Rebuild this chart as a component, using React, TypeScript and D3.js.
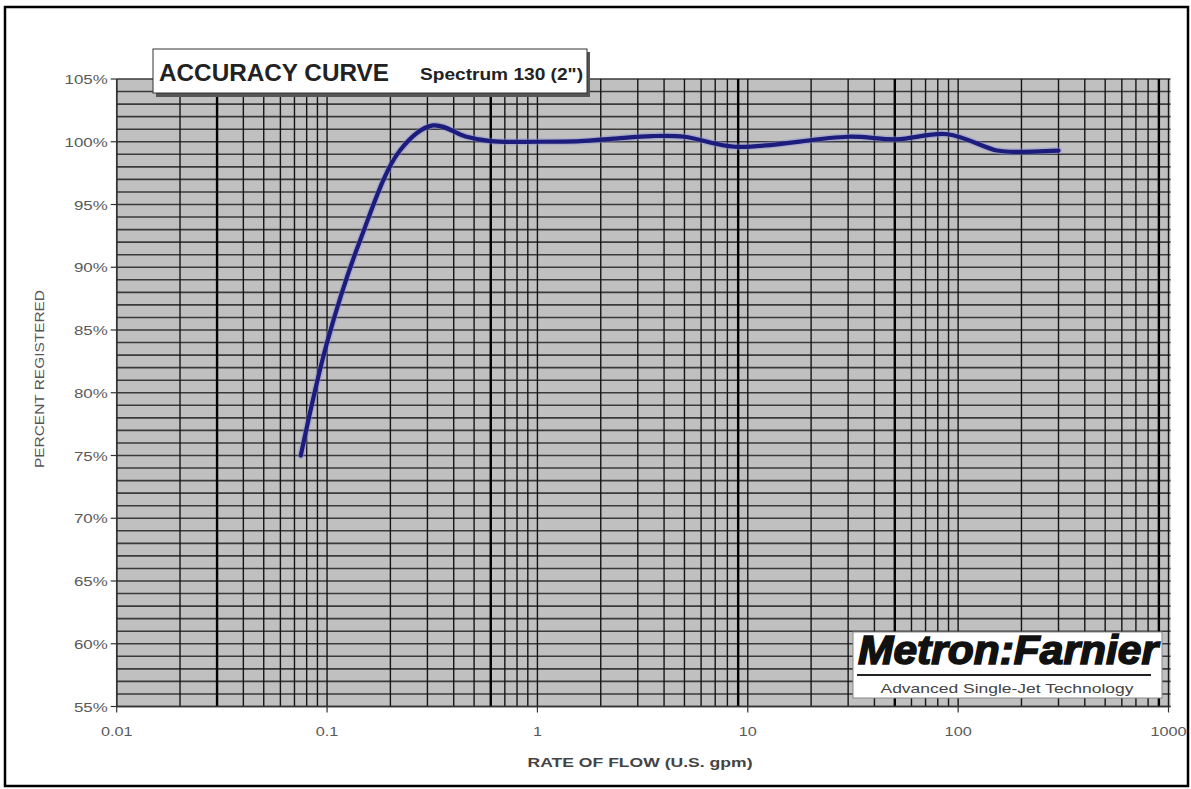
import React from "react";
import * as d3 from "d3";

const flowRates = [0.075, 0.1, 0.144, 0.222, 0.318, 0.46, 0.6, 1, 1.6, 2.3, 3.5, 5, 8.7, 30, 51, 89, 153, 183, 300];
const percentRegistered = [75, 84, 92.2, 99.3, 101.3, 100.4, 100.05, 100, 100.05, 100.25, 100.45, 100.4, 99.6, 100.4, 100.2, 100.6, 99.3, 99.2, 99.3];
const yTickValues = [55, 60, 65, 70, 75, 80, 85, 90, 95, 100, 105];
const xTickValues = [0.01, 0.1, 1, 10, 100, 1000];
const xTickLabels = ["0.01", "0.1", "1", "10", "100", "1000"];
const heavyVerticals = [0.03, 0.6, 9, 50, 900];

const W = 1191;
const H = 789;
const left = 116.7;
const right = 1168.5;
const top = 79;
const bottom = 706.5;
const font = "Arial, 'Liberation Sans', sans-serif";

export default function App() {
  const x = d3.scaleLog().domain([0.01, 1000]).range([left, right]);
  const y = d3.scaleLinear().domain([55, 105]).range([bottom, top]);

  const vLines: number[] = [];
  for (let e = -2; e <= 2; e++) {
    for (let m = 1; m <= 9; m++) vLines.push(m * Math.pow(10, e));
  }
  vLines.push(1000);
  const hLines = d3.range(55, 106, 1);

  const data = flowRates.map((f, i) => [f, percentRegistered[i]] as [number, number]);
  const line = d3
    .line<[number, number]>()
    .x((d) => x(d[0]))
    .y((d) => y(d[1]))
    .curve(d3.curveCatmullRom.alpha(0.5));

  return (
    <svg width={W} height={H} style={{ position: "absolute", left: 0, top: 0, background: "#fff" }}>
      <rect x={5} y={7} width={1183} height={779} fill="#fff" stroke="#000" strokeWidth={2.5} />
      <rect x={left} y={top} width={right - left + 2} height={bottom - top} fill="#c0c0c0" />
      {hLines.map((v) => (
        <line key={"h" + v} x1={left} x2={right + 2} y1={y(v)} y2={y(v)} stroke="#3a3a3a" strokeWidth={1.6} />
      ))}
      {vLines.map((v, i) => (
        <line key={"v" + i} x1={x(v)} x2={x(v)} y1={top} y2={bottom} stroke="#151515" strokeWidth={1.4} />
      ))}
      {heavyVerticals.map((v, i) => (
        <line key={"hv" + i} x1={x(v)} x2={x(v)} y1={top} y2={bottom} stroke="#000" strokeWidth={2.4} />
      ))}
      <line x1={left} x2={left} y1={top} y2={bottom} stroke="#333" strokeWidth={1.5} />
      <line x1={left} x2={right + 2} y1={bottom} y2={bottom} stroke="#333" strokeWidth={1.5} />

      {yTickValues.map((v) => (
        <g key={"yt" + v}>
          <line x1={left - 6} x2={left} y1={y(v)} y2={y(v)} stroke="#333" strokeWidth={1.2} />
          <text
            transform={`translate(${left - 9},${y(v) + 5}) scale(1.3,1)`}
            textAnchor="end"
            fontFamily={font}
            fontSize={13}
            fill="#5a5a5a"
          >
            {v + "%"}
          </text>
        </g>
      ))}
      {xTickValues.map((v, i) => (
        <g key={"xt" + v}>
          <line x1={x(v)} x2={x(v)} y1={bottom} y2={bottom + 6} stroke="#333" strokeWidth={1.2} />
          <text
            transform={`translate(${x(v)},${bottom + 29}) scale(1.25,1)`}
            textAnchor="middle"
            fontFamily={font}
            fontSize={13}
            fill="#5a5a5a"
          >
            {xTickLabels[i]}
          </text>
        </g>
      ))}
      <text
        x={640}
        y={767}
        textAnchor="middle"
        fontFamily={font}
        fontSize={12}
        fontWeight="bold"
        fill="#444"
        textLength={225}
        lengthAdjust="spacingAndGlyphs"
      >
        RATE OF FLOW (U.S. gpm)
      </text>
      <text
        transform="translate(44,379) rotate(-90)"
        textAnchor="middle"
        fontFamily={font}
        fontSize={12}
        fill="#555"
        textLength={178}
        lengthAdjust="spacingAndGlyphs"
      >
        PERCENT REGISTERED
      </text>

      <path d={line(data) || ""} fill="none" stroke="#8a8ad8" strokeWidth={7} strokeOpacity={0.4} strokeLinecap="round" />
      <path d={line(data) || ""} fill="none" stroke="#1c1c7c" strokeWidth={4.2} strokeLinecap="round" />

      {/* title box */}
      <rect x={156} y={52} width={434} height={45} fill="#555" />
      <rect x={153} y={49} width={434} height={44} fill="#fff" stroke="#333" strokeWidth={1} />
      <text
        x={159}
        y={81}
        fontFamily={font}
        fontSize={24}
        fontWeight="bold"
        fill="#222"
        textLength={230}
        lengthAdjust="spacingAndGlyphs"
      >
        ACCURACY CURVE
      </text>
      <text
        x={420}
        y={80}
        fontFamily={font}
        fontSize={17}
        fontWeight="bold"
        fill="#222"
        textLength={163}
        lengthAdjust="spacingAndGlyphs"
      >
        Spectrum 130 (2")
      </text>

      {/* logo */}
      <rect x={853} y={632} width={309} height={66} fill="#fff" stroke="#888" strokeWidth={1} />
      <text
        x={1008}
        y={664}
        textAnchor="middle"
        fontFamily={font}
        fontSize={40}
        fontWeight="900"
        fontStyle="italic"
        fill="#111"
        stroke="#111"
        strokeWidth={1.6}
        textLength={300}
        lengthAdjust="spacingAndGlyphs"
      >
        Metron:Farnier
      </text>
      <line x1={857} x2={1151} y1={675} y2={675} stroke="#222" strokeWidth={2.2} />
      <text
        x={1007}
        y={693}
        textAnchor="middle"
        fontFamily={font}
        fontSize={13}
        fill="#444"
        textLength={253}
        lengthAdjust="spacingAndGlyphs"
      >
        Advanced Single-Jet Technology
      </text>
    </svg>
  );
}
